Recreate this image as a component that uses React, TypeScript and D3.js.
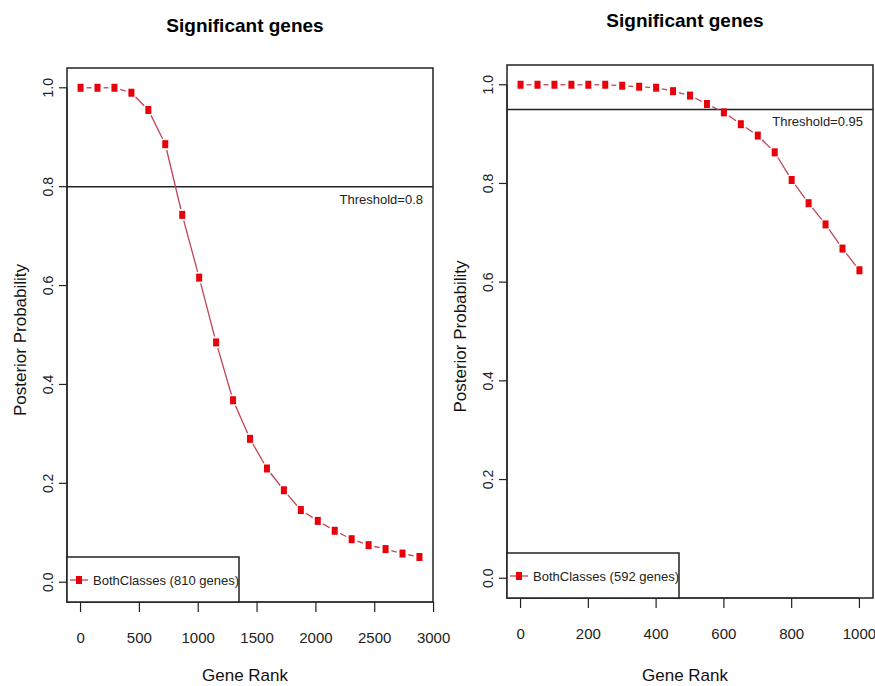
import { useEffect, useRef } from "react";
import * as d3 from "d3";

// left panel data (threshold 0.8)
const leftRanks = [0, 144, 288, 432, 576, 720, 864, 1008, 1152, 1296, 1440, 1584, 1728, 1872, 2016, 2160, 2304, 2448, 2592, 2736, 2880];
const leftProb = [1.0, 1.0, 1.0, 0.99, 0.955, 0.886, 0.743, 0.616, 0.485, 0.368, 0.29, 0.23, 0.186, 0.146, 0.124, 0.104, 0.087, 0.075, 0.067, 0.058, 0.051];
const leftXTicks = [0, 500, 1000, 1500, 2000, 2500, 3000];

// right panel data (threshold 0.95)
const rightRanks = [0, 50, 100, 150, 200, 250, 300, 350, 400, 450, 500, 550, 600, 650, 700, 750, 800, 850, 900, 950, 1000];
const rightProb = [1.0, 1.0, 1.0, 1.0, 1.0, 1.0, 0.998, 0.996, 0.994, 0.987, 0.978, 0.961, 0.944, 0.92, 0.897, 0.863, 0.807, 0.76, 0.717, 0.668, 0.624];
const rightXTicks = [0, 200, 400, 600, 800, 1000];

const yTicks = [0, 0.2, 0.4, 0.6, 0.8, 1.0];

const panels = [
  { ranks: leftRanks, probs: leftProb, xTicks: leftXTicks, xMax: 3000, threshold: 0.8, label: "Threshold=0.8",
    legend: "BothClasses (810 genes)", box: { x0: 67, x1: 433, y0: 68, y1: 602 }, titleX: 245, titleY: 32, legendW: 172 },
  { ranks: rightRanks, probs: rightProb, xTicks: rightXTicks, xMax: 1000, threshold: 0.95, label: "Threshold=0.95",
    legend: "BothClasses (592 genes)", box: { x0: 507, x1: 873, y0: 65, y1: 598 }, titleX: 685, titleY: 27, legendW: 172 },
];

const FONT = "'Liberation Sans', Arial, sans-serif";
const LINE = "#c04455";
const PT = "#e8000b";

export default function App() {
  const ref = useRef<SVGSVGElement>(null);

  useEffect(() => {
    const svg = d3.select(ref.current);
    svg.selectAll("*").remove();

    panels.forEach((p) => {
      const { box } = p;
      // R style: axis range padded by 4%
      const xPad = p.ranks[p.ranks.length - 1] * 0.04;
      const x = d3.scaleLinear()
        .domain([-xPad, p.ranks[p.ranks.length - 1] + xPad])
        .range([box.x0, box.x1]);
      const y = d3.scaleLinear().domain([-0.04, 1.04]).range([box.y1, box.y0]);

      const g = svg.append("g");

      // title
      g.append("text")
        .attr("x", p.titleX).attr("y", p.titleY)
        .attr("text-anchor", "middle")
        .attr("font-family", FONT).attr("font-size", 19).attr("font-weight", "bold")
        .text("Significant genes");

      // plot box
      g.append("rect")
        .attr("x", box.x0).attr("y", box.y0)
        .attr("width", box.x1 - box.x0).attr("height", box.y1 - box.y0)
        .attr("fill", "none").attr("stroke", "#222").attr("stroke-width", 1.5);

      // y axis
      const ya = g.append("g");
      ya.append("line")
        .attr("x1", box.x0).attr("x2", box.x0)
        .attr("y1", y(0)).attr("y2", y(1)).attr("stroke", "#222").attr("stroke-width", 1.2);
      yTicks.forEach((t) => {
        ya.append("line")
          .attr("x1", box.x0 - 8).attr("x2", box.x0)
          .attr("y1", y(t)).attr("y2", y(t)).attr("stroke", "#222").attr("stroke-width", 1.2);
        ya.append("text")
          .attr("transform", `translate(${box.x0 - 14},${y(t)}) rotate(-90)`)
          .attr("text-anchor", "middle")
          .attr("font-family", FONT).attr("font-size", 14).attr("fill", "#222")
          .text(t.toFixed(1));
      });
      g.append("text")
        .attr("transform", `translate(${box.x0 - 41},${(y(0) + y(1)) / 2 + 5}) rotate(-90)`)
        .attr("text-anchor", "middle")
        .attr("font-family", FONT).attr("font-size", 17).attr("fill", "#111")
        .text("Posterior Probability");

      // x axis
      const xa = g.append("g");
      xa.append("line")
        .attr("x1", x(0)).attr("x2", x(p.xMax))
        .attr("y1", box.y1).attr("y2", box.y1).attr("stroke", "#222").attr("stroke-width", 1.2);
      p.xTicks.forEach((t) => {
        xa.append("line")
          .attr("x1", x(t)).attr("x2", x(t))
          .attr("y1", box.y1).attr("y2", box.y1 + 10).attr("stroke", "#222").attr("stroke-width", 1.2);
        xa.append("text")
          .attr("x", x(t)).attr("y", box.y1 + 41)
          .attr("text-anchor", "middle")
          .attr("font-family", FONT).attr("font-size", 15).attr("fill", "#222")
          .text(t);
      });
      g.append("text")
        .attr("x", (box.x0 + box.x1) / 2 - 5).attr("y", 681)
        .attr("text-anchor", "middle")
        .attr("font-family", FONT).attr("font-size", 17).attr("fill", "#111")
        .text("Gene Rank");

      // threshold line
      g.append("line")
        .attr("x1", box.x0).attr("x2", box.x1)
        .attr("y1", y(p.threshold)).attr("y2", y(p.threshold))
        .attr("stroke", "#222").attr("stroke-width", 1.5);
      g.append("text")
        .attr("x", box.x1 - 10).attr("y", y(p.threshold) + 17)
        .attr("text-anchor", "end")
        .attr("font-family", FONT).attr("font-size", 13).attr("fill", "#222")
        .text(p.label);

      // type="b" style: segments with gaps around the points
      const pts = p.ranks.map((r, i) => [x(r), y(p.probs[i])]);
      const gap = 6;
      for (let i = 0; i < pts.length - 1; i++) {
        const [ax, ay] = pts[i];
        const [bx, by] = pts[i + 1];
        const len = Math.hypot(bx - ax, by - ay);
        if (len <= gap * 2) continue;
        const ux = (bx - ax) / len, uy = (by - ay) / len;
        g.append("line")
          .attr("x1", ax + ux * gap).attr("y1", ay + uy * gap)
          .attr("x2", bx - ux * gap).attr("y2", by - uy * gap)
          .attr("stroke", LINE).attr("stroke-width", 1.3);
      }
      g.selectAll(".pt")
        .data(pts)
        .enter()
        .append("rect")
        .attr("x", (d) => d[0] - 3).attr("y", (d) => d[1] - 4)
        .attr("width", 6).attr("height", 8)
        .attr("fill", PT);

      // legend
      const ly = box.y1 - 22;
      g.append("rect")
        .attr("x", box.x0).attr("y", box.y1 - 45)
        .attr("width", p.legendW).attr("height", 45)
        .attr("fill", "white").attr("stroke", "#222").attr("stroke-width", 1.5);
      g.append("line")
        .attr("x1", box.x0 + 3).attr("x2", box.x0 + 21)
        .attr("y1", ly).attr("y2", ly).attr("stroke", LINE).attr("stroke-width", 1.3);
      g.append("rect")
        .attr("x", box.x0 + 9).attr("y", ly - 4)
        .attr("width", 6).attr("height", 8).attr("fill", PT);
      g.append("text")
        .attr("x", box.x0 + 26).attr("y", ly + 5)
        .attr("font-family", FONT).attr("font-size", 13).attr("fill", "#222")
        .text(p.legend);
    });
  }, []);

  return (
    <svg
      ref={ref}
      width={875}
      height={686}
      style={{ position: "absolute", left: 0, top: 0, background: "white" }}
    />
  );
}
